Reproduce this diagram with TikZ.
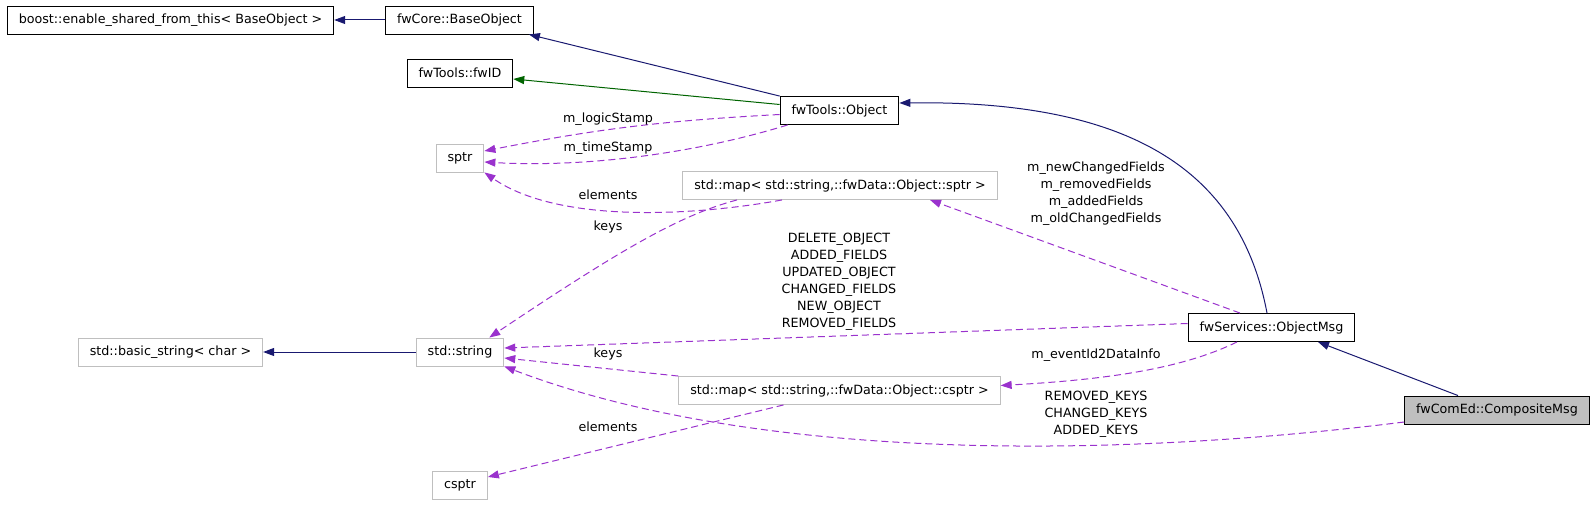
\documentclass[tikz,border=0pt]{standalone}
\usepackage{fontspec}
\setmainfont{DejaVu Sans}
\usetikzlibrary{arrows.meta}
\definecolor{inhblue}{HTML}{191970}
\definecolor{protgreen}{HTML}{006400}
\definecolor{usepurple}{HTML}{9A32CD}
\definecolor{undocgray}{HTML}{BFBFBF}

\begin{document}
\begin{tikzpicture}[x=1pt,y=-1pt,>={Triangle[length=11pt,width=8pt]},
		font=\fontsize{12.7}{17}\selectfont]
		\tikzstyle{cls}=[draw=black,line width=0.9pt,minimum height=28pt,inner xsep=11.5pt,inner ysep=0pt]
		\tikzstyle{undoc}=[cls,draw=undocgray]
		\tikzstyle{inherit}=[->,inhblue,line width=1pt]
		\tikzstyle{usage}=[->,usepurple,line width=1pt,dash pattern=on 7pt off 4pt]
		\tikzstyle{lbl}=[align=center,inner sep=0pt]
		\useasboundingbox (0,0) rectangle (1595,505);
		
		\node[cls]   (boost)    at (170.5,20)   {boost::enable\_shared\_from\_this< BaseObject >};
		\node[cls]   (baseobj)  at (459.5,20)   {fwCore::BaseObject};
		\node[cls]   (fwid)     at (460,73)     {fwTools::fwID};
		\node[cls]   (object)   at (839.5,110.5) {fwTools::Object};
		\node[undoc] (sptr)     at (460,158)    {sptr};
		\node[undoc] (mapsptr)  at (840,185.5)  {std::map< std::string,::fwData::Object::sptr >};
		\node[undoc] (basicstr) at (170.5,352)  {std::basic\_string< char >};
		\node[undoc] (string)   at (460,352)    {std::string};
		\node[undoc] (mapcsptr) at (839.5,390.5) {std::map< std::string,::fwData::Object::csptr >};
		\node[undoc] (csptr)    at (460,485)    {csptr};
		\node[cls]   (objmsg)   at (1271.5,327.5) {fwServices::ObjectMsg};
		\node[cls,fill=undocgray] (compmsg) at (1497,410) {fwComEd::CompositeMsg};
		
		% inheritance
		\draw[inherit] (baseobj) -- (boost);
		\draw[inherit] (object.north west) -- ([xshift=-5pt]baseobj.south east);
		\draw[inherit,protgreen] ([yshift=6pt]object.west) -- ([yshift=-6pt]fwid.east);
		\draw[inherit] (string) -- (basicstr);
		\draw[inherit] ([xshift=-4.5pt]objmsg.north) .. controls (1240,170) and (1130,100) .. ([yshift=7.5pt]object.east);
		\draw[inherit] ([xshift=-39pt]compmsg.north) -- ([xshift=46.5pt]objmsg.south);
		
		% usage
		\draw[usage] ([yshift=-4pt]object.west) to[bend right=4] ([yshift=7pt]sptr.east);
		\draw[usage] ([xshift=8pt]object.south west) .. controls (700,152) and (590,168) .. ([yshift=-4pt]sptr.east);
		\draw[usage] ([xshift=-58pt]mapsptr.south) .. controls (700,215) and (560,225) .. (sptr.south east);
		\draw[usage] ([xshift=-103pt]mapsptr.south) .. controls (680,215) and (620,250) .. ([xshift=-15pt]string.north east);
		\draw[usage] ([yshift=4pt]objmsg.west) -- ([yshift=4pt]string.east);
		\draw[usage] (mapcsptr.north west) -- ([yshift=-6pt]string.east);
		\draw[usage] ([yshift=-12pt]compmsg.west) .. controls (1100,460) and (750,460) .. (string.south east);
		\draw[usage] ([xshift=-56pt]mapcsptr.south) -- ([yshift=8pt]csptr.east);
		\draw[usage] ([xshift=-31.5pt]objmsg.north) -- ([xshift=90pt]mapsptr.south);
		\draw[usage] ([xshift=-34.5pt]objmsg.south) .. controls (1180,370) and (1100,380) .. ([yshift=5pt]mapcsptr.east);
		
		% labels
		\node[lbl] (lbllogic)  at (608,119) {m\_logicStamp};
		\node[lbl] (lbltime)   at (608,148) {m\_timeStamp};
		\node[lbl] (lblelem)   at (608,195) {elements};
		\node[lbl] (lblkeys)   at (608,227) {keys};
		\node[lbl] (lblevents) at (839,281.5) {DELETE\_OBJECT\\ADDED\_FIELDS\\UPDATED\_OBJECT\\CHANGED\_FIELDS\\NEW\_OBJECT\\REMOVED\_FIELDS};
		\node[lbl] (lblfields) at (1096,193.5) {m\_newChangedFields\\m\_removedFields\\m\_addedFields\\m\_oldChangedFields};
		\node[lbl] (lblkeys2)  at (608,354) {keys};
		\node[lbl] (lbldata)   at (1096,355) {m\_eventId2DataInfo};
		\node[lbl] (lblelem2)  at (608,427) {elements};
		\node[lbl] (lblckeys)  at (1096,414.5) {REMOVED\_KEYS\\CHANGED\_KEYS\\ADDED\_KEYS};
\end{tikzpicture}
\end{document}
